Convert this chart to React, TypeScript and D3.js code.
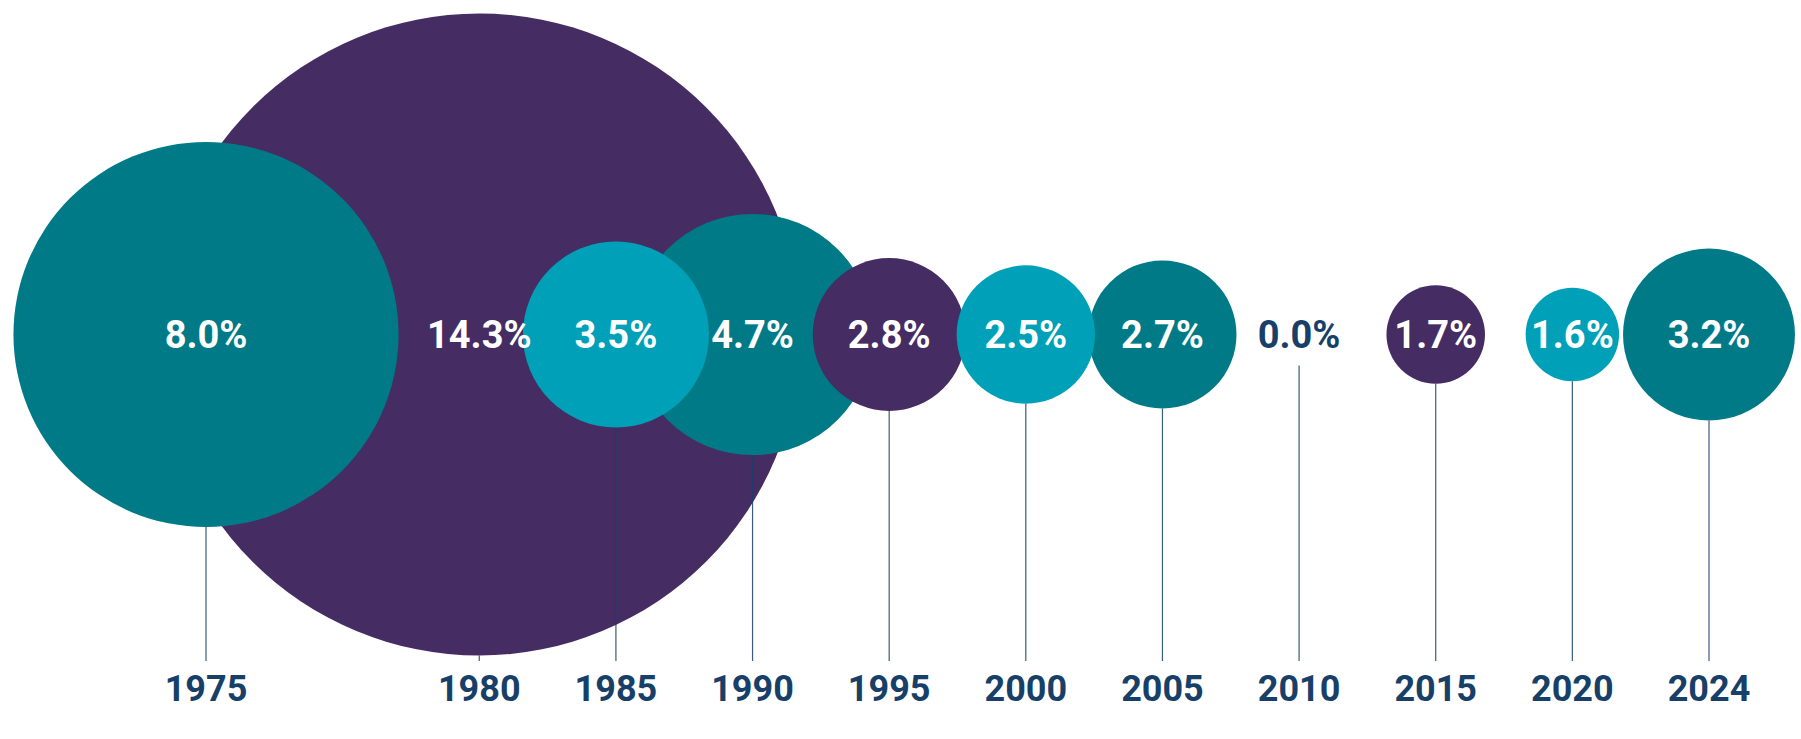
import React from "react";
import * as d3 from "d3";

const years = ["1975", "1980", "1985", "1990", "1995", "2000", "2005", "2010", "2015", "2020", "2024"];
const values = [8.0, 14.3, 3.5, 4.7, 2.8, 2.5, 2.7, 0.0, 1.7, 1.6, 3.2];
const palette = ["#007a87", "#452c63", "#00a0b8"];

const W = 1801;
const H = 739;
const CENTER_Y = 334.5;
const AXIS_Y = 661;
const NAVY = "#173f67";
const FONT = "Roboto, 'Noto Sans', sans-serif";

export default function App() {
  // the first (wide) circle takes two slots, every other year one
  const slots = years.map((_, i) => (i === 0 ? 0 : i + 1));
  const x = d3
    .scaleLinear()
    .domain([0, d3.max(slots) as number])
    .range([206, 1709]);
  const r = d3
    .scalePow()
    .exponent(0.88)
    .domain([0, d3.max(values) as number])
    .range([0, 321]);
  const nonZero = years.filter((_, i) => values[i] > 0);
  const color = d3.scaleOrdinal<string, string>().domain(nonZero).range(palette);

  const data = years.map((year, i) => ({
    year,
    value: values[i],
    cx: x(slots[i]),
    r: r(values[i]),
  }));
  const drawOrder = [...data].sort((a, b) => b.value - a.value);
  const fmt = d3.format(".1f");

  return (
    <svg
      width={W}
      height={H}
      style={{ position: "absolute", left: 0, top: 0, background: "#fff" }}
    >
      <g>
        {drawOrder
          .filter((d) => d.value > 0)
          .map((d) => (
            <circle key={d.year} cx={d.cx} cy={CENTER_Y} r={d.r} fill={color(d.year)} />
          ))}
      </g>
      <g>
        {data.map((d) => (
          <line
            key={d.year}
            x1={d.cx}
            x2={d.cx}
            y1={CENTER_Y + Math.max(d.r, 31)}
            y2={AXIS_Y}
            stroke={NAVY}
            strokeWidth={1.2}
            strokeOpacity={0.85}
          />
        ))}
      </g>
      <g>
        {data.map((d) => (
          <text
            key={d.year}
            x={d.cx}
            y={CENTER_Y + 13.7}
            textAnchor="middle"
            fontFamily={FONT}
            fontWeight={700}
            fontSize={38}
            fill={d.value > 0 ? "#ffffff" : NAVY}
          >
            {fmt(d.value)}%
          </text>
        ))}
      </g>
      <g>
        {data.map((d) => (
          <text
            key={d.year}
            x={d.cx}
            y={700.5}
            textAnchor="middle"
            fontFamily={FONT}
            fontWeight={700}
            fontSize={36}
            fill={NAVY}
          >
            {d.year}
          </text>
        ))}
      </g>
    </svg>
  );
}
